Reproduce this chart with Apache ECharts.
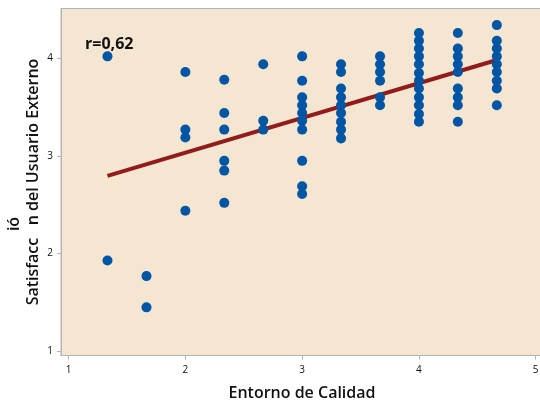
<!DOCTYPE html>
<html>
<head>
<meta charset="utf-8">
<script src="https://cdn.jsdelivr.net/npm/echarts@6/dist/echarts.min.js"></script>
<style>
  html, body { margin: 0; padding: 0; background: #fff; }
  #chart { width: 540px; height: 407px; }
</style>
</head>
<body>
<div id="chart"></div>
<script>
// Entorno de Calidad levels (x) and the Satisfaccion values seen at each level
const xLevels = [1.333, 1.667, 2, 2.333, 2.667, 3, 3.333, 3.667, 4, 4.333, 4.667];
const yByLevel = [
  [4.02, 1.93],
  [1.77, 1.45],
  [3.86, 3.27, 3.19, 2.44],
  [3.78, 3.44, 3.27, 2.95, 2.85, 2.52],
  [3.94, 3.36, 3.27],
  [4.02, 3.77, 3.60, 3.52, 3.44, 3.36, 3.27, 2.95, 2.69, 2.61],
  [3.94, 3.86, 3.69, 3.60, 3.52, 3.44, 3.35, 3.27, 3.18],
  [4.02, 3.94, 3.86, 3.77, 3.60, 3.52],
  [4.26, 4.18, 4.10, 4.02, 3.94, 3.85, 3.77, 3.69, 3.60, 3.52, 3.43, 3.35],
  [4.26, 4.10, 4.02, 3.94, 3.86, 3.69, 3.60, 3.52, 3.35],
  [4.34, 4.18, 4.10, 4.02, 3.94, 3.86, 3.77, 3.69, 3.52]
];
// fitted line at both ends
const fitX = [1.333, 4.667];
const fitY = [2.796, 3.983];
const xTicks = [1, 2, 3, 4, 5];
const yTicks = [1, 2, 3, 4];

const points = [];
xLevels.forEach((x, i) => {
  yByLevel[i].forEach(y => points.push([x, y]));
});

const font = '"Open Sans", "Noto Sans", sans-serif';
const chart = echarts.init(document.getElementById('chart'));
chart.setOption({
  animation: false,
  grid: {
    left: 61, top: 8.5, width: 483, height: 347,
    outerBoundsMode: 'none',
    show: true,
    backgroundColor: '#F5E6D1',
    borderColor: '#b4b4b4',
    borderWidth: 1
  },
  xAxis: {
    type: 'value',
    min: 0.935,
    max: 5.071,
    splitLine: { show: false },
    axisLine: { lineStyle: { color: '#b4b4b4' } },
    axisTick: { customValues: xTicks, length: 4, lineStyle: { color: '#b4b4b4' } },
    axisLabel: { customValues: xTicks, margin: 10, fontSize: 10, color: '#111', fontFamily: font }
  },
  yAxis: {
    type: 'value',
    min: 0.957,
    max: 4.51,
    splitLine: { show: false },
    axisLine: { show: true, lineStyle: { color: '#b4b4b4' } },
    axisTick: { show: true, customValues: yTicks, length: 4, lineStyle: { color: '#b4b4b4' } },
    axisLabel: { customValues: yTicks, margin: 8, fontSize: 10, color: '#111', fontFamily: font }
  },
  graphic: [
    {
      type: 'text', x: 85, y: 44,
      style: { text: 'r=0,62', font: 'bold 16px ' + font, fill: '#111', textVerticalAlign: 'middle' }
    },
    {
      type: 'text', x: 302, y: 393,
      style: { text: 'Entorno de Calidad', font: '600 16px ' + font, fill: '#111', textAlign: 'center', textVerticalAlign: 'middle' }
    },
    {
      type: 'text', x: 33, y: 182, rotation: Math.PI / 2,
      style: { text: 'Satisfacc   n del Usuario Externo', font: '600 16px ' + font, fill: '#111', textAlign: 'center', textVerticalAlign: 'middle' }
    },
    {
      type: 'text', x: 14, y: 224, rotation: Math.PI / 2,
      style: { text: 'ió', font: '600 16px ' + font, fill: '#111', textAlign: 'center', textVerticalAlign: 'middle' }
    }
  ],
  series: [
    {
      type: 'line',
      data: fitX.map((x, i) => [x, fitY[i]]),
      symbol: 'none',
      lineStyle: { color: '#921c1c', width: 4 },
      z: 2
    },
    {
      type: 'scatter',
      data: points,
      symbolSize: 10,
      itemStyle: { color: '#0055A5', opacity: 1 },
      z: 3
    }
  ]
});
</script>
</body>
</html>
